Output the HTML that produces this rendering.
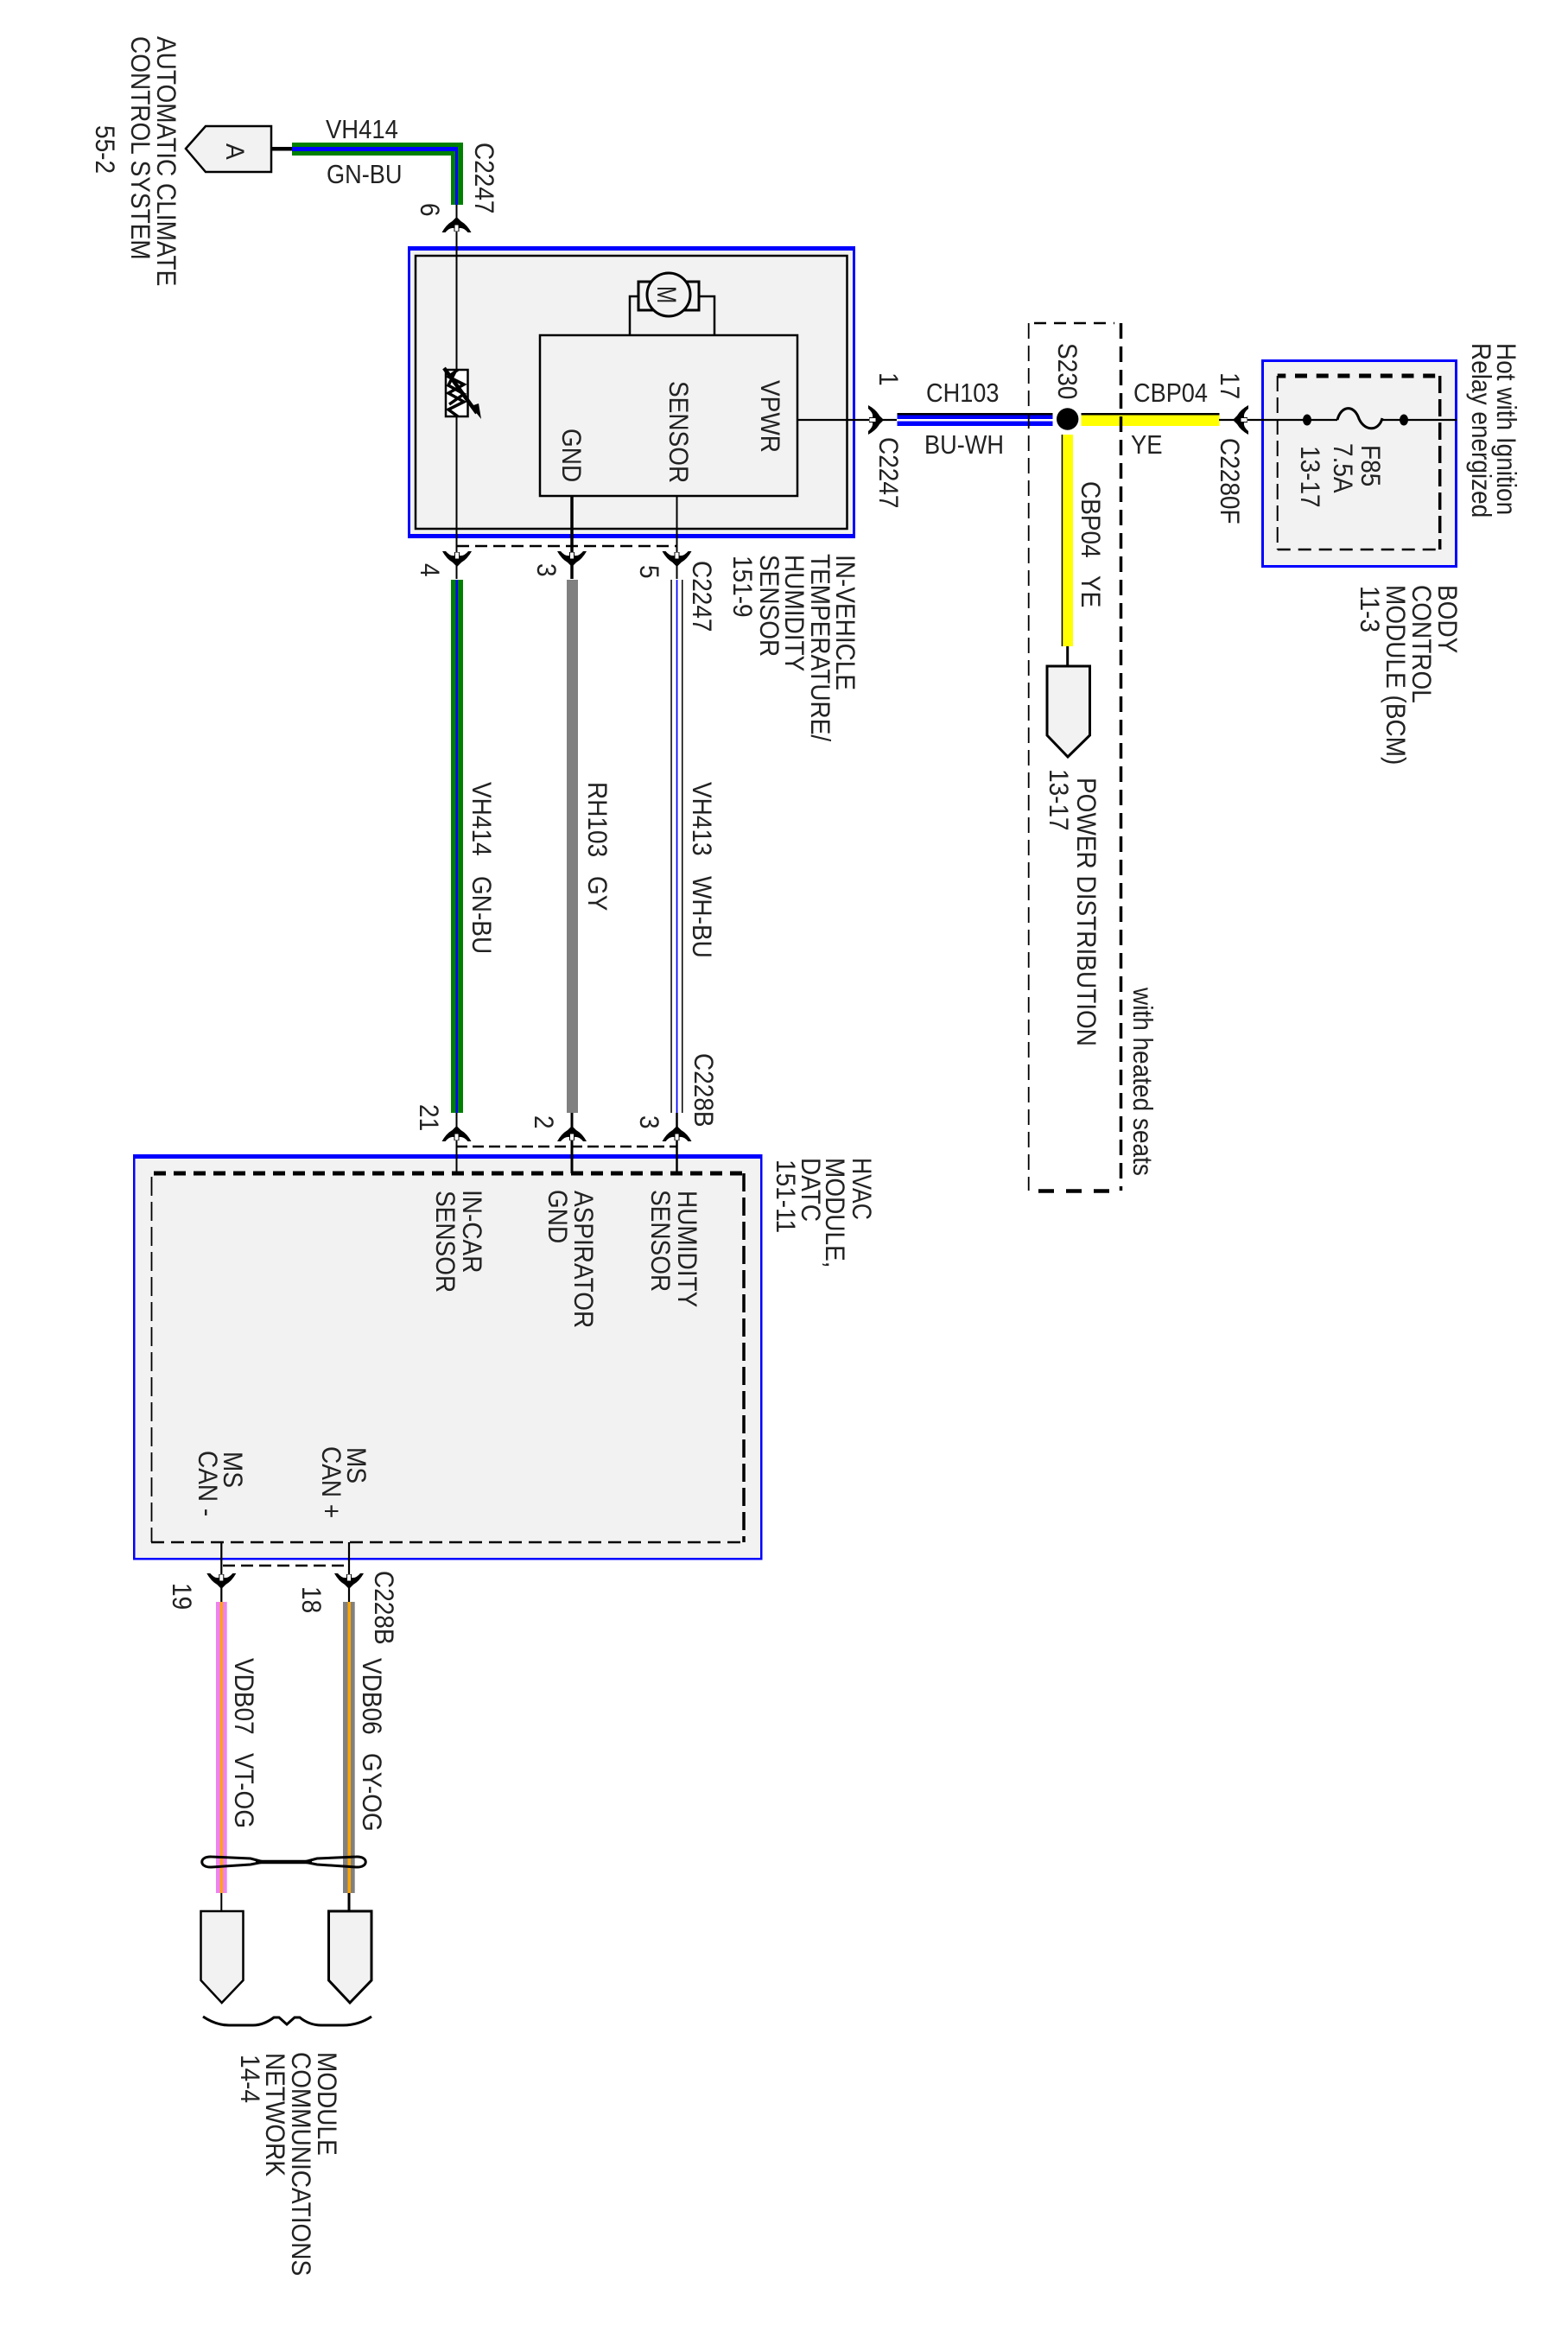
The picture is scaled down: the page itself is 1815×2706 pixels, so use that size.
<!DOCTYPE html>
<html lang="en"><head><meta charset="utf-8"><title>HVAC wiring diagram</title>
<style>
html,body{margin:0;padding:0;background:#fff}
svg{display:block}
text{font-family:"Liberation Sans",Arial,sans-serif;font-size:28px;fill:#222}
.s{fill:none;stroke:#000}
</style></head><body>
<svg width="1815" height="2706" viewBox="0 0 1815 2706" xmlns="http://www.w3.org/2000/svg">
<defs>
<g id="cn">
<path d="M0 1L-5 -4Q-12 -8 -17 -17L-13 -17Q-8 -11 -3 -12L-3 -16L3 -16L3 -12Q8 -11 13 -17L17 -17Q12 -8 5 -4Z" fill="#000"/>
<rect x="-2" y="-15.500" width="4" height="7" fill="#fff"/>
</g>
</defs>
<rect width="1815" height="2706" fill="#fff"/>

<!-- Sensor module -->
<rect x="472" y="285" width="518" height="338" fill="#00f"/>
<rect x="475" y="290" width="512" height="328" fill="#f2f2f2"/>
<rect x="481" y="296" width="499.500" height="316" class="s" stroke-width="2.500"/>
<rect x="625" y="388" width="298" height="186" class="s" stroke-width="2.500"/>
<path d="M729 388V343H739M827 388V343H809" class="s" stroke-width="2.500"/>
<rect x="739" y="326" width="70" height="33" class="s" stroke-width="3"/>
<circle cx="774" cy="341" r="25" fill="#f2f2f2" stroke="#000" stroke-width="3"/>
<text transform="translate(761 331)rotate(90)scale(.87,1.12)">M</text>

<!-- Top wire A -->
<polygon points="215,172 238,146 314,146 314,199 238,199" fill="#f2f2f2" stroke="#000" stroke-width="2.500"/>
<rect x="314" y="170" width="25" height="4.500" fill="#000"/>
<rect x="338" y="165" width="198" height="15" fill="#008000"/>
<rect x="522" y="165" width="14" height="72" fill="#008000"/>
<rect x="338" y="170" width="192" height="5" fill="#00f"/>
<rect x="527" y="170" width="3" height="67" fill="#00f"/>

<!-- vertical connectors through module -->
<path d="M528.500 237V670" class="s" stroke-width="2"/>
<path d="M662 574V670" class="s" stroke-width="3.500"/>
<path d="M783.500 574V670" class="s" stroke-width="2"/>
<path d="M529 632H783" class="s" stroke-width="2.500" stroke-dasharray="14 7"/>

<!-- Resistor -->
<rect x="516" y="428" width="25.500" height="54" fill="#fff" stroke="#000" stroke-width="2.500"/>
<path d="M530 428L519 436L537 445L519 455L537 465L519 474L530 482M528 428L519 446L537 456L520 468" class="s" stroke-width="3.500"/>
<path d="M514 426L552 478" class="s" stroke-width="4.500"/>
<polygon points="545,470 554,467 557,485" fill="#000"/>

<use href="#cn" transform="translate(528.500 252)rotate(180)"/>
<use href="#cn" transform="translate(529 655)"/>
<use href="#cn" transform="translate(662 655)"/>
<use href="#cn" transform="translate(783.500 655)"/>

<!-- Long wires -->
<rect x="522" y="671" width="14" height="617" fill="#008000"/>
<rect x="527.500" y="671" width="2.500" height="617" fill="#00f"/>
<rect x="656" y="671" width="13" height="617" fill="#808080"/>
<rect x="776.300" y="671" width="1.500" height="617" fill="#000"/>
<rect x="782.700" y="671" width="1.700" height="617" fill="#00f"/>
<rect x="789" y="671" width="1.500" height="617" fill="#000"/>

<!-- HVAC module -->
<rect x="154" y="1336" width="728.500" height="469.500" fill="#00f"/>
<rect x="156.500" y="1341" width="723.500" height="462" fill="#f2f2f2"/>
<path d="M178 1358H860" class="s" stroke-width="5" stroke-dasharray="14 9"/>
<path d="M175.500 1362V1785" class="s" stroke-width="1.800" stroke-dasharray="22 7"/>
<path d="M861 1358V1785" class="s" stroke-width="3.500" stroke-dasharray="21 7"/>
<path d="M175 1785H861" class="s" stroke-width="2.500" stroke-dasharray="15 8"/>
<path d="M528.500 1288V1358" class="s" stroke-width="2"/>
<path d="M662 1288V1358" class="s" stroke-width="3"/>
<path d="M783.500 1288V1358" class="s" stroke-width="2.500"/>
<path d="M528 1327H783" class="s" stroke-width="2.500" stroke-dasharray="13 6"/>
<use href="#cn" transform="translate(528.500 1304)rotate(180)"/>
<use href="#cn" transform="translate(662 1304)rotate(180)"/>
<use href="#cn" transform="translate(783.500 1304)rotate(180)"/>

<path d="M256.300 1785V1854M404 1785V1854" class="s" stroke-width="2.200"/>
<path d="M258 1812H400" class="s" stroke-width="2.500" stroke-dasharray="14 7"/>
<use href="#cn" transform="translate(256.300 1838)"/>
<use href="#cn" transform="translate(404 1838)"/>

<!-- CAN wires -->
<rect x="250" y="1854" width="12.700" height="337" fill="#ee82ee"/>
<rect x="254.800" y="1854" width="3.200" height="337" fill="#ffa500"/>
<rect x="397" y="1854" width="13.700" height="337" fill="#808080"/>
<rect x="402.500" y="1854" width="3.500" height="337" fill="#ffa500"/>
<path d="M305 2155L290 2151L245 2149C230 2148 230 2162 245 2161L290 2158L305 2155M352 2155L367 2151L412 2149C427 2148 427 2162 412 2161L367 2158L352 2155" class="s" stroke-width="3"/>
<path d="M296 2155H361" class="s" stroke-width="4.500"/>
<path d="M256.300 2191V2212" class="s" stroke-width="2"/>
<path d="M404 2191V2212" class="s" stroke-width="3"/>
<polygon points="232.500,2212 281.500,2212 281.500,2292 256.700,2318 232.500,2292" fill="#f2f2f2" stroke="#000" stroke-width="2.500"/>
<polygon points="380.500,2212 430,2212 430,2292 405,2318 380.500,2292" fill="#f2f2f2" stroke="#000" stroke-width="3"/>
<path d="M235 2334Q250 2344 265 2344L293 2344Q305 2344 317 2335L323 2335L332 2343L341 2335L347 2335Q358 2344 372 2344L397 2344Q415 2344 430 2334" class="s" stroke-width="3"/>

<!-- Power wires -->
<path d="M923 486H1038" class="s" stroke-width="2.200"/>
<use href="#cn" transform="translate(1022 486)rotate(-90)"/>
<rect x="1038.500" y="478" width="180" height="15" fill="#00f"/>
<rect x="1038.500" y="478" width="180" height="2.500" fill="#000"/>
<rect x="1038.500" y="485" width="180" height="2.500" fill="#fff"/>
<rect x="1251.500" y="478" width="160" height="15" fill="#ff0"/>
<rect x="1251.500" y="478" width="160" height="2.500" fill="#000"/>
<rect x="1228.700" y="503" width="13.300" height="245" fill="#ff0"/>
<rect x="1228.700" y="503" width="1.500" height="245" fill="#000"/>
<circle cx="1235.700" cy="485" r="12.700" fill="#000"/>
<path d="M1235.700 748V771" class="s" stroke-width="3"/>
<polygon points="1212,771 1261.500,771 1261.500,851 1236,876 1212,851" fill="#f2f2f2" stroke="#000" stroke-width="3"/>
<path d="M1190.700 374V1378" class="s" stroke-width="1.800" stroke-dasharray="18 8"/>
<path d="M1297.500 374V1378" class="s" stroke-width="3.500" stroke-dasharray="18 9"/>
<path d="M1197 374H1290" class="s" stroke-width="2.500" stroke-dasharray="14 9"/>
<path d="M1202 1378.500H1292" class="s" stroke-width="4.500" stroke-dasharray="18 14"/>

<!-- BCM -->
<rect x="1461.500" y="417.500" width="224" height="238" fill="#f2f2f2" stroke="#00f" stroke-width="3"/>
<path d="M1478.700 435H1664" class="s" stroke-width="5" stroke-dasharray="14 10.700" stroke-dashoffset="4.400"/>
<path d="M1478.700 435V636" class="s" stroke-width="2" stroke-dasharray="18 7"/>
<path d="M1666.700 435V636" class="s" stroke-width="3.500" stroke-dasharray="20 7"/>
<path d="M1478.700 636H1666.700" class="s" stroke-width="2.500" stroke-dasharray="15 9"/>
<path d="M1411 486H1548M1599 486H1686" class="s" stroke-width="2.200"/>
<path d="M1548 486C1552 470 1566 468 1572 482C1578 500 1596 500 1600 484" class="s" stroke-width="3"/>
<ellipse cx="1513" cy="486" rx="5" ry="6.500" fill="#000"/>
<ellipse cx="1625" cy="486" rx="5" ry="6.500" fill="#000"/>
<use href="#cn" transform="translate(1428 486)rotate(90)"/>

<!-- Horizontal labels -->
<text transform="translate(377 160)scale(.98,1.1)">VH414</text>
<text transform="translate(378 212)scale(.97,1.1)">GN-BU</text>
<text transform="translate(1072 465)scale(.97,1.1)">CH103</text>
<text transform="translate(1070 525)scale(.97,1.1)">BU-WH</text>
<text transform="translate(1312 465)scale(.97,1.1)">CBP04</text>
<text transform="translate(1309 525)scale(.98,1.1)">YE</text>

<!-- Rotated labels -->
<text transform="translate(182 42)rotate(90)scale(1,1.12)">AUTOMATIC CLIMATE</text>
<text transform="translate(152 42)rotate(90)scale(1,1.12)">CONTROL SYSTEM</text>
<text transform="translate(111 145)rotate(90)scale(1,1.12)">55-2</text>
<text transform="translate(262 166)rotate(90)scale(1,1.05)">A</text>
<text transform="translate(550 165)rotate(90)scale(1,1.12)">C2247</text>
<text transform="translate(487 235)rotate(90)scale(1,1.12)">6</text>
<text transform="translate(881 440)rotate(90)scale(1,1.12)">VPWR</text>
<text transform="translate(775 441)rotate(90)scale(1,1.12)">SENSOR</text>
<text transform="translate(651 496)rotate(90)scale(1,1.12)">GND</text>
<text transform="translate(1018 431)rotate(90)scale(1,1.12)">1</text>
<text transform="translate(1018 506)rotate(90)scale(1,1.12)">C2247</text>
<text transform="translate(487 652)rotate(90)scale(1,1.12)">4</text>
<text transform="translate(622 652)rotate(90)scale(1,1.12)">3</text>
<text transform="translate(741 654)rotate(90)scale(1,1.12)">5</text>
<text transform="translate(802 649)rotate(90)scale(1,1.12)">C2247</text>
<text transform="translate(968 642)rotate(90)scale(1,1.12)">IN-VEHICLE</text>
<text transform="translate(939 641)rotate(90)scale(1,1.12)">TEMPERATURE/</text>
<text transform="translate(909 642)rotate(90)scale(1,1.12)">HUMIDITY</text>
<text transform="translate(880 642)rotate(90)scale(1,1.12)">SENSOR</text>
<text transform="translate(849 643)rotate(90)scale(1,1.12)">151-9</text>
<text transform="translate(547 905)rotate(90)scale(1,1.12)">VH414</text>
<text transform="translate(547 1014)rotate(90)scale(1,1.12)">GN-BU</text>
<text transform="translate(681 905)rotate(90)scale(1,1.12)">RH103</text>
<text transform="translate(681 1014)rotate(90)scale(1,1.12)">GY</text>
<text transform="translate(802 905)rotate(90)scale(1,1.12)">VH413</text>
<text transform="translate(802 1014)rotate(90)scale(1,1.12)">WH-BU</text>
<text transform="translate(804 1219)rotate(90)scale(1,1.12)">C228B</text>
<text transform="translate(486 1278)rotate(90)scale(1,1.12)">21</text>
<text transform="translate(619 1291)rotate(90)scale(1,1.12)">2</text>
<text transform="translate(741 1291)rotate(90)scale(1,1.12)">3</text>
<text transform="translate(536 1377)rotate(90)scale(1,1.12)">IN-CAR</text>
<text transform="translate(505 1378)rotate(90)scale(1,1.12)">SENSOR</text>
<text transform="translate(665 1378)rotate(90)scale(1,1.12)">ASPIRATOR</text>
<text transform="translate(635 1377)rotate(90)scale(1,1.12)">GND</text>
<text transform="translate(785 1378)rotate(90)scale(1,1.12)">HUMIDITY</text>
<text transform="translate(754 1377)rotate(90)scale(1,1.12)">SENSOR</text>
<text transform="translate(987 1340)rotate(90)scale(.95,1.12)">HVAC</text>
<text transform="translate(956 1340)rotate(90)scale(1,1.12)">MODULE,</text>
<text transform="translate(928 1340)rotate(90)scale(1,1.12)">DATC</text>
<text transform="translate(899 1342)rotate(90)scale(1,1.12)">151-11</text>
<text transform="translate(259 1680)rotate(90)scale(1,1.12)">MS</text>
<text transform="translate(230 1679)rotate(90)scale(1,1.12)">CAN -</text>
<text transform="translate(402 1675)rotate(90)scale(1,1.12)">MS</text>
<text transform="translate(373 1674)rotate(90)scale(1,1.12)">CAN +</text>
<text transform="translate(200 1832)rotate(90)scale(1,1.12)">19</text>
<text transform="translate(350 1836)rotate(90)scale(1,1.12)">18</text>
<text transform="translate(434 1818)rotate(90)scale(1,1.12)">C228B</text>
<text transform="translate(272 1919)rotate(90)scale(1,1.12)">VDB07</text>
<text transform="translate(272 2029)rotate(90)scale(1,1.12)">VT-OG</text>
<text transform="translate(420 1919)rotate(90)scale(1,1.12)">VDB06</text>
<text transform="translate(420 2029)rotate(90)scale(1,1.12)">GY-OG</text>
<text transform="translate(368 2375)rotate(90)scale(1,1.12)">MODULE</text>
<text transform="translate(338 2375)rotate(90)scale(1,1.12)">COMMUNICATIONS</text>
<text transform="translate(308 2376)rotate(90)scale(1,1.12)">NETWORK</text>
<text transform="translate(279 2378)rotate(90)scale(1,1.12)">14-4</text>
<text transform="translate(1225 397)rotate(90)scale(1,1.12)">S230</text>
<text transform="translate(1252 557)rotate(90)scale(1,1.12)">CBP04</text>
<text transform="translate(1252 666)rotate(90)scale(1,1.12)">YE</text>
<text transform="translate(1215 890)rotate(90)scale(1,1.12)">13-17</text>
<text transform="translate(1247 900)rotate(90)scale(1,1.12)">POWER DISTRIBUTION</text>
<text transform="translate(1312 1143)rotate(90)scale(1,1.12)">with heated seats</text>
<text transform="translate(1413 431)rotate(90)scale(1,1.12)">17</text>
<text transform="translate(1413 507)rotate(90)scale(1,1.12)">C2280F</text>
<text transform="translate(1576 515)rotate(90)scale(1,1.12)">F85</text>
<text transform="translate(1544 513)rotate(90)scale(1,1.12)">7.5A</text>
<text transform="translate(1506 516)rotate(90)scale(1,1.12)">13-17</text>
<text transform="translate(1733 397)rotate(90)scale(1,1.12)">Hot with Ignition</text>
<text transform="translate(1704 397)rotate(90)scale(1,1.12)">Relay energized</text>
<text transform="translate(1665 677)rotate(90)scale(1,1.12)">BODY</text>
<text transform="translate(1635 677)rotate(90)scale(1,1.12)">CONTROL</text>
<text transform="translate(1605 677)rotate(90)scale(1,1.12)">MODULE (BCM)</text>
<text transform="translate(1575 678)rotate(90)scale(1,1.12)">11-3</text>
</svg>
</body></html>
